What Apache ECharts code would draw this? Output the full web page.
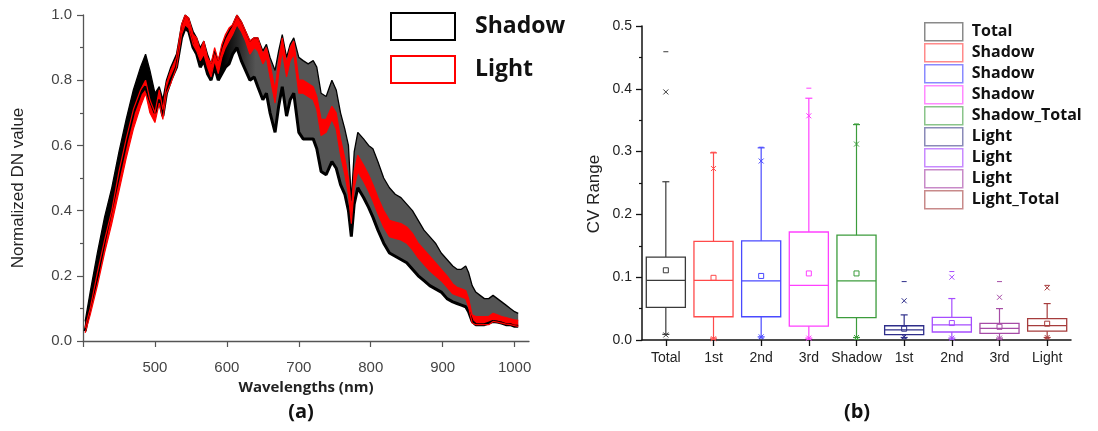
<!DOCTYPE html>
<html>
<head>
<meta charset="utf-8">
<script src="https://cdn.jsdelivr.net/npm/echarts@6/dist/echarts.min.js"></script>
<style>
  html, body { margin: 0; padding: 0; background: #fff; }
  #chart { width: 1098px; height: 431px; }
</style>
</head>
<body>
<div id="chart"></div>
<script>
// ---------- (a) normalized spectra: envelopes of the Shadow and Light curve bundles ----------
const wavelengths = [
  403, 410, 420, 430, 440, 450, 460, 470, 480,
  487, 493, 500, 506, 511, 516, 522, 530,
  537, 542, 547, 553, 558, 563, 568, 573, 578, 583,
  588, 593, 598, 603, 608, 614, 620, 626, 632, 638,
  643, 650, 655, 660, 667, 672, 677, 683, 688, 693,
  700, 706, 713, 720, 725, 731, 738, 746, 752, 758,
  764, 769, 773, 777, 782, 790, 797, 803, 810, 818,
  826, 834, 842, 850, 858, 866, 874, 882, 890, 898,
  906, 914, 920, 926, 932, 936, 941, 946, 952, 958,
  964, 970, 976, 982, 988, 994, 1000, 1005
];
const shadowUpper = [
  0.06, 0.15, 0.27, 0.38, 0.47, 0.58, 0.68, 0.77, 0.84,
  0.88, 0.83, 0.76, 0.78, 0.74, 0.80, 0.84, 0.88,
  0.97, 1.00, 0.99, 0.95, 0.93, 0.90, 0.92, 0.88, 0.85, 0.89,
  0.86, 0.90, 0.93, 0.95, 0.97, 1.00, 0.98, 0.95, 0.92, 0.93,
  0.93, 0.89, 0.91, 0.87, 0.83, 0.89, 0.94, 0.87, 0.91, 0.93,
  0.87, 0.86, 0.85, 0.86, 0.84, 0.76, 0.75, 0.80, 0.77, 0.70,
  0.65, 0.60, 0.43, 0.58, 0.64, 0.62, 0.60, 0.59, 0.55, 0.50,
  0.47, 0.45, 0.44, 0.42, 0.40, 0.37, 0.34, 0.32, 0.30, 0.27,
  0.25, 0.23, 0.22, 0.22, 0.23, 0.21, 0.17, 0.15, 0.14, 0.13,
  0.13, 0.14, 0.13, 0.12, 0.11, 0.10, 0.09, 0.085
];
const shadowLower = [
  0.03, 0.11, 0.20, 0.31, 0.41, 0.51, 0.61, 0.70, 0.76,
  0.78, 0.74, 0.70, 0.74, 0.69, 0.76, 0.80, 0.84,
  0.93, 0.96, 0.95, 0.90, 0.88, 0.84, 0.86, 0.82, 0.80, 0.84,
  0.80, 0.82, 0.84, 0.85, 0.88, 0.90, 0.86, 0.83, 0.80, 0.81,
  0.78, 0.74, 0.76, 0.70, 0.64, 0.72, 0.78, 0.69, 0.74, 0.76,
  0.64, 0.62, 0.62, 0.62, 0.59, 0.52, 0.51, 0.55, 0.53, 0.48,
  0.45, 0.40, 0.32, 0.42, 0.47, 0.44, 0.41, 0.38, 0.34, 0.30,
  0.27, 0.26, 0.25, 0.24, 0.22, 0.20, 0.185, 0.17, 0.16, 0.15,
  0.13, 0.12, 0.115, 0.11, 0.105, 0.09, 0.06, 0.05, 0.05, 0.05,
  0.055, 0.06, 0.058, 0.055, 0.05, 0.05, 0.045, 0.045
];
const lightUpper = [
  0.04, 0.10, 0.21, 0.31, 0.40, 0.52, 0.62, 0.71, 0.77,
  0.80, 0.74, 0.70, 0.77, 0.71, 0.79, 0.83, 0.87,
  0.97, 1.00, 0.99, 0.94, 0.93, 0.89, 0.92, 0.87, 0.85, 0.90,
  0.86, 0.91, 0.94, 0.96, 0.97, 1.00, 0.98, 0.95, 0.92, 0.93,
  0.93, 0.88, 0.90, 0.85, 0.77, 0.86, 0.93, 0.85, 0.90, 0.92,
  0.80, 0.80, 0.79, 0.78, 0.75, 0.68, 0.68, 0.72, 0.70, 0.62,
  0.56, 0.50, 0.40, 0.52, 0.57, 0.54, 0.51, 0.48, 0.44, 0.40,
  0.37, 0.365, 0.36, 0.35, 0.33, 0.30, 0.28, 0.26, 0.24, 0.22,
  0.20, 0.175, 0.165, 0.16, 0.155, 0.13, 0.08, 0.075, 0.075, 0.075,
  0.075, 0.085, 0.08, 0.075, 0.072, 0.068, 0.065, 0.063
];
const lightLower = [
  0.025, 0.08, 0.17, 0.27, 0.36, 0.46, 0.56, 0.65, 0.72,
  0.76, 0.70, 0.67, 0.73, 0.68, 0.76, 0.79, 0.84,
  0.94, 0.97, 0.96, 0.91, 0.89, 0.86, 0.88, 0.84, 0.81, 0.86,
  0.82, 0.87, 0.90, 0.92, 0.94, 0.97, 0.95, 0.92, 0.88, 0.90,
  0.89, 0.85, 0.87, 0.81, 0.73, 0.82, 0.89, 0.81, 0.86, 0.88,
  0.76, 0.76, 0.75, 0.74, 0.71, 0.63, 0.64, 0.68, 0.65, 0.57,
  0.51, 0.45, 0.36, 0.47, 0.52, 0.49, 0.46, 0.43, 0.39, 0.35,
  0.32, 0.315, 0.31, 0.30, 0.28, 0.255, 0.235, 0.215, 0.20, 0.185,
  0.165, 0.145, 0.14, 0.135, 0.13, 0.105, 0.055, 0.05, 0.05, 0.05,
  0.05, 0.06, 0.058, 0.055, 0.052, 0.05, 0.047, 0.045
];
const specTickValues = [400, 500, 600, 700, 800, 900, 1000];
const specLabelValues = [500, 600, 700, 800, 900, 1000];

// ---------- (b) CV range box plots ----------
const cvCategories = ['Total', '1st', '2nd', '3rd', 'Shadow', '1st', '2nd', '3rd', 'Light'];
const cvSeriesNames = ['Total', 'Shadow 1st', 'Shadow 2nd', 'Shadow 3rd', 'Shadow_Total',
                       'Light 1st', 'Light 2nd', 'Light 3rd', 'Light_Total'];
const cvLegendLabels = ['Total', 'Shadow', 'Shadow', 'Shadow', 'Shadow_Total',
                        'Light', 'Light', 'Light', 'Light_Total'];
const cvMin         = [0.001, 0.001, 0.003, 0.001, 0.001, 0.002, 0.001, 0.001, 0.002];
const cvP1          = [0.008, 0.002, 0.005, 0.003, 0.004, 0.005, 0.003, 0.003, 0.004];
const cvWhiskerLow  = [0.009, 0.003, 0.005, 0.003, 0.004, 0.004, 0.003, 0.003, 0.004];
const cvQ1          = [0.052, 0.037, 0.037, 0.022, 0.0355, 0.0084, 0.0127, 0.0105, 0.014];
const cvMedian      = [0.095, 0.095, 0.094, 0.087, 0.094, 0.016, 0.024, 0.0185, 0.023];
const cvQ3          = [0.132, 0.157, 0.158, 0.172, 0.167, 0.0227, 0.036, 0.0264, 0.034];
const cvWhiskerHigh = [0.252, 0.298, 0.306, 0.385, 0.343, 0.040, 0.066, 0.050, 0.058];
const cvP99         = [0.395, 0.273, 0.285, 0.357, 0.312, 0.0625, 0.100, 0.068, 0.083];
const cvMax         = [0.459, 0.299, 0.307, 0.401, 0.344, 0.093, 0.109, 0.093, 0.087];
const cvMean        = [0.111, 0.099, 0.102, 0.106, 0.106, 0.018, 0.027, 0.021, 0.026];

const cvColors = ['#3a3a3a', '#ff4a4a', '#4a4aff', '#ff40ff', '#3c9c3c',
                  '#2e2e8a', '#a64dff', '#a64ca6', '#a63c3c'];
const cvLegendColors = ['#8a8a8a', '#ff8a8a', '#8a8aff', '#ff8aff', '#8ac48a',
                        '#8a8ab8', '#c88aff', '#c88ac8', '#c88a8a'];

const SANS = '"Liberation Sans", Arial, sans-serif';
const BOLD = '"Open Sans", "Noto Sans", sans-serif';

// filled band between two envelope curves, drawn once through the axis scales
function bandRenderer(upper, lower, fillFor) {
  return function (params, api) {
    if (params.dataIndex !== 0) return null;
    const pts = [];
    for (let i = 0; i < wavelengths.length; i++) pts.push(api.coord([wavelengths[i], upper[i]]));
    for (let i = wavelengths.length - 1; i >= 0; i--) pts.push(api.coord([wavelengths[i], lower[i]]));
    return { type: 'polygon', shape: { points: pts }, style: { fill: fillFor(api) } };
  };
}

function edgeSeries(values, color, width) {
  return {
    type: 'line', xAxisIndex: 0, yAxisIndex: 0,
    data: wavelengths.map((w, i) => [w, values[i]]),
    showSymbol: false, silent: true,
    lineStyle: { color: color, width: width },
    emphasis: { disabled: true }
  };
}

// Origin-style box: box 25-75%, whiskers with small caps, mean square, x at 1/99%, dash at min/max
function boxRenderer(k) {
  return function (params, api) {
    const xi = api.value(0);
    const at = v => api.coord([xi, v])[1];
    const cx = api.coord([xi, 0])[0];
    const hw = api.size([1, 0])[0] * 0.41;
    const col = cvColors[k];
    const ln = (x1, y1, x2, y2, w) => ({
      type: 'line', shape: { x1, y1, x2, y2 },
      style: { stroke: col, lineWidth: w || 1.2 }
    });
    const cross = yy => [ln(cx - 2.5, yy - 2.5, cx + 2.5, yy + 2.5, 1), ln(cx - 2.5, yy + 2.5, cx + 2.5, yy - 2.5, 1)];
    const yMin = at(api.value(1)), yP1 = at(api.value(2)), yWl = at(api.value(3));
    const yQ1 = at(api.value(4)), yMed = at(api.value(5)), yQ3 = at(api.value(6));
    const yWh = at(api.value(7)), yP99 = at(api.value(8)), yMax = at(api.value(9));
    const yMean = at(api.value(10));
    return {
      type: 'group',
      children: [
        { type: 'rect', shape: { x: cx - hw, y: yQ3, width: 2 * hw, height: yQ1 - yQ3 },
          style: { fill: 'none', stroke: col, lineWidth: 1.3 } },
        ln(cx - hw, yMed, cx + hw, yMed),
        ln(cx, yQ3, cx, yWh), ln(cx - 3.5, yWh, cx + 3.5, yWh),
        ln(cx, yQ1, cx, yWl), ln(cx - 3.5, yWl, cx + 3.5, yWl),
        { type: 'rect', shape: { x: cx - 2.5, y: yMean - 2.5, width: 5, height: 5 },
          style: { fill: 'none', stroke: col, lineWidth: 1 } },
        ...cross(yP1), ...cross(yP99),
        ln(cx - 2.5, yMin, cx + 2.5, yMin, 1), ln(cx - 2.5, yMax, cx + 2.5, yMax, 1)
      ]
    };
  };
}

const chart = echarts.init(document.getElementById('chart'), null, { renderer: 'canvas' });

const series = [
  {
    type: 'custom', name: 'Shadow', xAxisIndex: 0, yAxisIndex: 0,
    data: wavelengths.map((w, i) => [w, shadowUpper[i], shadowLower[i]]),
    encode: { x: 0, y: [1, 2] },
    renderItem: bandRenderer(shadowUpper, shadowLower, api => {
      const x0 = api.coord([595, 0])[0];
      const x1 = api.coord([640, 0])[0];
      return new echarts.graphic.LinearGradient(x0, 0, x1, 0,
        [{ offset: 0, color: '#000' }, { offset: 1, color: '#555' }], true);
    }),
    itemStyle: { color: '#000' }, silent: true
  },
  edgeSeries(shadowUpper, '#000', 1.3),
  edgeSeries(shadowLower, '#000', 3),
  {
    type: 'custom', name: 'Light', xAxisIndex: 0, yAxisIndex: 0,
    data: wavelengths.map((w, i) => [w, lightUpper[i], lightLower[i]]),
    encode: { x: 0, y: [1, 2] },
    renderItem: bandRenderer(lightUpper, lightLower, () => '#ff0000'),
    itemStyle: { color: '#ff0000' }, silent: true
  },
  edgeSeries(lightUpper, '#ff0000', 1.2),
  edgeSeries(lightLower, '#ff0000', 1.2)
];

cvSeriesNames.forEach((name, k) => {
  series.push({
    type: 'custom', name: name, xAxisIndex: 1, yAxisIndex: 1,
    data: [[k, cvMin[k], cvP1[k], cvWhiskerLow[k], cvQ1[k], cvMedian[k], cvQ3[k],
            cvWhiskerHigh[k], cvP99[k], cvMax[k], cvMean[k]]],
    encode: { x: 0, y: [1, 9] },
    renderItem: boxRenderer(k),
    itemStyle: { color: cvColors[k] }, silent: true
  });
});

const option = {
  backgroundColor: '#fff',
  animation: false,
  grid: [
    { left: 83, top: 15, width: 446, height: 326 },
    { left: 642, top: 26, width: 429, height: 314 }
  ],
  xAxis: [
    {
      type: 'value', gridIndex: 0, min: 400, max: 1020, interval: 100,
      axisLine: { show: true, onZero: false, lineStyle: { color: '#555', width: 1.3 } },
      axisTick: { show: true, length: 6, customValues: specTickValues, lineStyle: { color: '#555', width: 1.2 } },
      axisLabel: { customValues: specLabelValues, formatter: v => String(v),
                   margin: 19, color: '#444', fontSize: 15, fontFamily: SANS },
      splitLine: { show: false },
      name: 'Wavelengths (nm)', nameLocation: 'middle', nameGap: 39,
      nameTextStyle: { fontFamily: BOLD, fontWeight: 'bold', fontSize: 15, color: '#222' }
    },
    {
      type: 'category', gridIndex: 1, data: cvCategories, boundaryGap: true,
      axisLine: { show: true, onZero: false, lineStyle: { color: '#111', width: 1.5 } },
      axisTick: { show: true, alignWithLabel: true, interval: 0, length: 6, lineStyle: { color: '#111', width: 1.3 } },
      axisLabel: { interval: 0, margin: 11, color: '#222', fontSize: 14, fontFamily: SANS },
      splitLine: { show: false }
    }
  ],
  yAxis: [
    {
      type: 'value', gridIndex: 0, min: 0, max: 1, interval: 0.2,
      axisLine: { show: true, onZero: false, lineStyle: { color: '#555', width: 1.3 } },
      axisTick: { show: true, length: 6, lineStyle: { color: '#555', width: 1.2 } },
      minorTick: { show: true, splitNumber: 2, length: 3, lineStyle: { color: '#555', width: 1.2 } },
      axisLabel: { formatter: v => v.toFixed(1), margin: 11, color: '#444', fontSize: 15, fontFamily: SANS },
      splitLine: { show: false }, minorSplitLine: { show: false },
      name: 'Normalized DN value', nameLocation: 'middle', nameGap: 56,
      nameTextStyle: { fontFamily: SANS, fontSize: 17, color: '#222', padding: [0, 20, 0, 0] }
    },
    {
      type: 'value', gridIndex: 1, min: 0, max: 0.5, interval: 0.1,
      axisLine: { show: true, onZero: false, lineStyle: { color: '#111', width: 1.5 } },
      axisTick: { show: true, length: 6, lineStyle: { color: '#111', width: 1.3 } },
      minorTick: { show: true, splitNumber: 2, length: 3, lineStyle: { color: '#111', width: 1.2 } },
      axisLabel: { formatter: v => v.toFixed(1), margin: 10, color: '#222', fontSize: 14, fontFamily: SANS },
      splitLine: { show: false }, minorSplitLine: { show: false },
      name: 'CV Range', nameLocation: 'middle', nameGap: 39,
      nameTextStyle: { fontFamily: SANS, fontSize: 17, color: '#222', padding: [0, 22, 0, 0] }
    }
  ],
  legend: [
    {
      orient: 'vertical', left: 390, top: 12, padding: 0,
      itemWidth: 64, itemHeight: 27, itemGap: 14, icon: 'rect',
      selectedMode: false,
      data: [
        { name: 'Shadow', itemStyle: { color: '#fff', borderColor: '#000', borderWidth: 2 } },
        { name: 'Light', itemStyle: { color: '#fff', borderColor: '#ff0000', borderWidth: 2 } }
      ],
      textStyle: { fontFamily: BOLD, fontWeight: 'bold', fontSize: 23, lineHeight: 27,
                   color: '#111', padding: [0, 0, 0, 15] }
    },
    {
      orient: 'vertical', left: 924, top: 22, padding: 0,
      itemWidth: 38, itemHeight: 18, itemGap: 1.5, icon: 'rect',
      selectedMode: false,
      data: cvSeriesNames.map((n, k) => ({
        name: n, itemStyle: { color: '#fff', borderColor: cvLegendColors[k], borderWidth: 1.5 }
      })),
      formatter: n => cvLegendLabels[cvSeriesNames.indexOf(n)],
      textStyle: { fontFamily: BOLD, fontWeight: 'bold', fontSize: 16, lineHeight: 18,
                   color: '#111', padding: [0, 0, 0, 4] }
    }
  ],
  graphic: [
    { type: 'text', x: 301, y: 412,
      style: { text: '(a)', font: 'bold 20px "Open Sans", sans-serif', fill: '#111', align: 'center', verticalAlign: 'middle' } },
    { type: 'text', x: 857, y: 412,
      style: { text: '(b)', font: 'bold 20px "Open Sans", sans-serif', fill: '#111', align: 'center', verticalAlign: 'middle' } }
  ],
  series: series
};

chart.setOption(option);
</script>
</body>
</html>
